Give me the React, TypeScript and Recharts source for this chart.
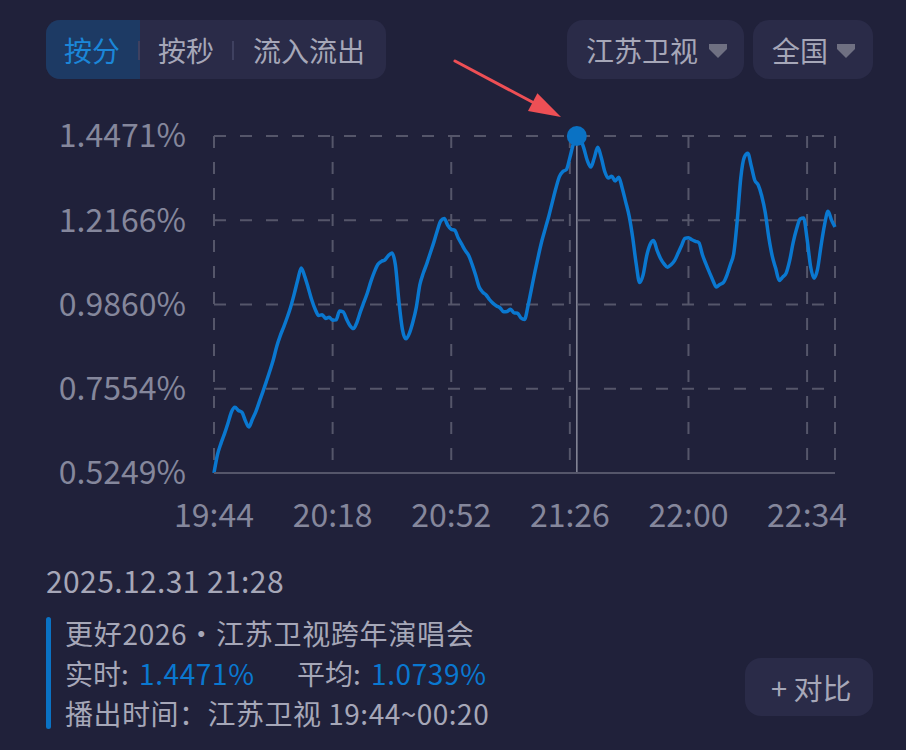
import { LineChart, Line, XAxis, YAxis, CartesianGrid, ReferenceLine, ReferenceDot } from 'recharts'

// one value per minute, starting 19:44
const RATING = [
  0.5249, 0.575, 0.606, 0.632, 0.661, 0.692, 0.705, 0.696, 0.691, 0.668,
  0.651, 0.672, 0.693, 0.72, 0.747, 0.775, 0.804, 0.835, 0.872, 0.901,
  0.925, 0.951, 0.98, 1.015, 1.053, 1.086, 1.063, 1.032, 0.999, 0.973,
  0.956, 0.958, 0.948, 0.951, 0.943, 0.944, 0.968, 0.966, 0.946, 0.928,
  0.92, 0.938, 0.967, 0.993, 1.019, 1.05, 1.076, 1.096, 1.104, 1.108,
  1.12, 1.127, 1.094, 0.995, 0.918, 0.892, 0.907, 0.938, 0.979, 1.04,
  1.072, 1.098, 1.127, 1.156, 1.188, 1.215, 1.221, 1.203, 1.192, 1.189,
  1.168, 1.151, 1.134, 1.12, 1.095, 1.066, 1.034, 1.02, 1.012, 0.999,
  0.989, 0.982, 0.977, 0.966, 0.967, 0.973, 0.963, 0.962, 0.949, 0.945,
  0.982, 1.029, 1.076, 1.12, 1.161, 1.195, 1.229, 1.267, 1.304, 1.336,
  1.35, 1.355, 1.388, 1.425, 1.4471, 1.439, 1.414, 1.38, 1.362, 1.387,
  1.416, 1.388, 1.35, 1.332, 1.337, 1.324, 1.334, 1.305, 1.267, 1.228,
  1.17, 1.098, 1.046, 1.067, 1.118, 1.15, 1.161, 1.134, 1.112, 1.097,
  1.088, 1.095, 1.106, 1.126, 1.147, 1.167, 1.169, 1.163, 1.159, 1.155,
  1.122, 1.097, 1.074, 1.052, 1.034, 1.041, 1.046, 1.066, 1.095, 1.127,
  1.218, 1.333, 1.389, 1.4, 1.365, 1.326, 1.313, 1.283, 1.238, 1.171,
  1.119, 1.085, 1.052, 1.061, 1.072, 1.106, 1.155, 1.193, 1.22, 1.223,
  1.165, 1.09, 1.058, 1.083, 1.147, 1.204, 1.241, 1.217, 1.198,
]

const X_TICKS = [0, 34, 68, 102, 136, 170]
const X_LABELS = ['19:44', '20:18', '20:52', '21:26', '22:00', '22:34']
const Y_TICKS = [0.5249, 0.7554, 0.986, 1.2166, 1.4471]

const CURSOR_MINUTE = 104
const CURSOR_TIME = '2025.12.31 21:28'
const PROGRAM = '更好2026・江苏卫视跨年演唱会'
const LIVE = '1.4471%'
const AVERAGE = '1.0739%'
const AIRTIME = '播出时间：江苏卫视 19:44~00:20'

const TABS = ['按分', '按秒', '流入流出']

const BG = '#20213a'
const CARD = '#2a2b48'
const BLUE = '#0a78d0'
const TEXT = '#a6a7b8'
const FONT = "'Noto Sans CJK SC', 'Noto Sans', sans-serif"

const data = RATING.map((v, i) => ({ minute: i, rating: v }))

function Caret({ left }: { left: number }) {
  return (
    <svg width={20} height={16} style={{ position: 'absolute', left, top: 23 }}>
      <polygon points="1,1 19,1 19,6 10,15 1,6" fill="#6f7082" />
    </svg>
  )
}

function Text({ left, top, children, color = TEXT, size = 28, spacing = 0 }: any) {
  return (
    <span
      style={{
        position: 'absolute',
        left,
        top,
        height: 40,
        lineHeight: '40px',
        fontSize: size,
        letterSpacing: spacing,
        color,
        whiteSpace: 'nowrap',
      }}
    >
      {children}
    </span>
  )
}

export default function App() {
  return (
    <div
      style={{
        position: 'absolute',
        left: 0,
        top: 0,
        width: 906,
        height: 750,
        background: BG,
        fontFamily: FONT,
        overflow: 'hidden',
      }}
    >
      {/* tab switch */}
      <div
        style={{
          position: 'absolute',
          left: 46,
          top: 20,
          width: 340,
          height: 59,
          borderRadius: 14,
          background: CARD,
          overflow: 'hidden',
        }}
      >
        <div style={{ position: 'absolute', left: 0, top: 0, width: 94, height: 59, background: '#1d3a64' }} />
        <div style={{ position: 'absolute', left: 92, top: 21, width: 2, height: 19, background: '#3f4160' }} />
        <div style={{ position: 'absolute', left: 186, top: 21, width: 2, height: 19, background: '#3f4160' }} />
        <Text left={18} top={10} color="#1b86d8">{TABS[0]}</Text>
        <Text left={112} top={10}>{TABS[1]}</Text>
        <Text left={207} top={10}>{TABS[2]}</Text>
      </div>

      {/* dropdowns */}
      <div style={{ position: 'absolute', left: 567, top: 20, width: 177, height: 59, borderRadius: 16, background: CARD }}>
        <Text left={19} top={10}>江苏卫视</Text>
        <Caret left={141} />
      </div>
      <div style={{ position: 'absolute', left: 753, top: 20, width: 120, height: 59, borderRadius: 16, background: CARD }}>
        <Text left={19} top={10}>全国</Text>
        <Caret left={83} />
      </div>

      <div style={{ position: 'absolute', left: 0, top: 0 }}>
        <LineChart
          width={906}
          height={560}
          data={data}
          margin={{ top: 136, right: 71, bottom: 27, left: 0 }}
        >
          <CartesianGrid stroke="#55566a" strokeWidth={2} strokeDasharray="12 14" />
          <XAxis
            dataKey="minute"
            type="number"
            domain={[0, 178]}
            ticks={X_TICKS}
            tickFormatter={(v: number) => X_LABELS[X_TICKS.indexOf(v)]}
            height={60}
            axisLine={{ stroke: '#55566a', strokeWidth: 2 }}
            tickLine={false}
            tickSize={0}
            tickMargin={31}
            tick={{ fill: '#85879c', fontSize: 32, fontFamily: FONT }}
            interval={0}
          />
          <YAxis
            type="number"
            domain={[0.5249, 1.4471]}
            ticks={Y_TICKS}
            tickFormatter={(v: number) => v.toFixed(4) + '%'}
            width={214}
            axisLine={false}
            tickLine={false}
            tickSize={0}
            tickMargin={28}
            tick={{ fill: '#85879c', fontSize: 32, fontFamily: FONT }}
            interval={0}
          />
          <ReferenceLine x={CURSOR_MINUTE} stroke="#8a8b9c" strokeWidth={1.5} />
          <Line
            type="monotone"
            dataKey="rating"
            stroke={BLUE}
            strokeWidth={3.5}
            dot={false}
            isAnimationActive={false}
          />
          <ReferenceDot x={CURSOR_MINUTE} y={RATING[CURSOR_MINUTE]} r={10} fill="#0a72c4" stroke="none" ifOverflow="visible" />
        </LineChart>
      </div>

      {/* annotation arrow */}
      <svg width={906} height={750} style={{ position: 'absolute', left: 0, top: 0, pointerEvents: 'none' }}>
        <line x1={455} y1={61} x2={536} y2={104} stroke="#ee4f55" strokeWidth={3} strokeLinecap="round" />
        <polygon points="561,117 537.4,93.3 528,110.9" fill="#ee4f55" />
      </svg>

      {/* info block */}
      <Text left={46} top={560} size={30} spacing={0.4}>{CURSOR_TIME}</Text>
      <div style={{ position: 'absolute', left: 46, top: 617, width: 5, height: 112, borderRadius: 3, background: '#0a72c4' }} />
      <Text left={65} top={613} spacing={0.7}>{PROGRAM}</Text>
      <Text left={65} top={653}>实时: <span style={{ color: BLUE, marginLeft: 4, letterSpacing: 0.6 }}>{LIVE}</span></Text>
      <Text left={297} top={653}>平均: <span style={{ color: BLUE, marginLeft: 4, letterSpacing: 0.6 }}>{AVERAGE}</span></Text>
      <Text left={65} top={693} spacing={0.5}>{AIRTIME}</Text>

      <div style={{ position: 'absolute', left: 745, top: 658, width: 128, height: 58, borderRadius: 16, background: CARD }}>
        <Text left={26} top={9} size={29}>+ 对比</Text>
      </div>
    </div>
  )
}
